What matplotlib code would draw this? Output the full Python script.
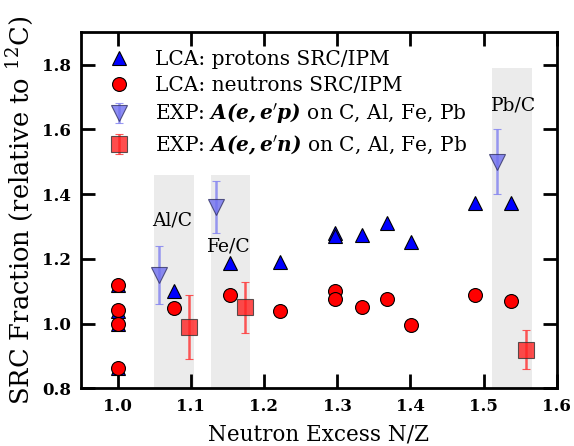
import numpy as np
import matplotlib
matplotlib.use('Agg')
import matplotlib.pyplot as plt

plt.rcParams['font.family'] = 'DejaVu Serif'
plt.rcParams['mathtext.fontset'] = 'dejavuserif'

# LCA calculations
nz_lca = [1.0, 1.0, 1.0, 1.0, 1.077, 1.154, 1.222, 1.297, 1.297, 1.334, 1.368, 1.401, 1.488, 1.538]
prot_lca = [1.12, 1.04, 1.0, 0.862, 1.10, 1.186, 1.19, 1.279, 1.27, 1.274, 1.31, 1.251, 1.372, 1.371]
neut_lca = [1.12, 1.041, 1.0, 0.862, 1.049, 1.087, 1.039, 1.10, 1.075, 1.053, 1.077, 0.996, 1.087, 1.07]

# experiment (ratios to C)
nz_exp_p = [1.056, 1.134, 1.519]
val_exp_p = [1.15, 1.36, 1.50]
err_exp_p = [0.09, 0.08, 0.10]
nz_exp_n = [1.097, 1.1745, 1.558]
val_exp_n = [0.99, 1.05, 0.92]
err_exp_n = [0.10, 0.08, 0.06]

# shaded bands
bands = [(1.05, 1.105, 1.46), (1.127, 1.181, 1.46), (1.511, 1.566, 1.79)]
band_labels = ['Al/C', 'Fe/C', 'Pb/C']
label_pos = [(1.074, 1.318), (1.152, 1.239), (1.541, 1.675)]

fig = plt.figure(figsize=(5.74, 4.46), dpi=100)
ax = fig.add_axes([0.141, 0.129, 0.829, 0.799])

for (x0, x1, top), lab, (tx, ty) in zip(bands, band_labels, label_pos):
    ax.fill_between([x0, x1], 0.8, top, color='#ebebeb', lw=0, zorder=0)
    ax.text(tx, ty, lab, ha='center', va='center', fontsize=13.5)

ax.plot(nz_lca, prot_lca, '^', color='blue', mec='black', mew=0.8, ms=10,
        label='LCA: protons SRC/IPM', zorder=3)
ax.plot(nz_lca, neut_lca, 'o', color='red', mec='black', mew=0.8, ms=10,
        label='LCA: neutrons SRC/IPM', zorder=4)
ax.errorbar(nz_exp_p, val_exp_p, yerr=err_exp_p, fmt='v', color='#7070f0',
            mec='#333366', mew=0.8, ms=11, ecolor='#8080f0', elinewidth=1.8,
            capsize=3, alpha=0.8, label=r"EXP: $\mathbfit{A(e,e}'\mathbfit{p)}$ on C, Al, Fe, Pb", zorder=5)
ax.errorbar(nz_exp_n, val_exp_n, yerr=err_exp_n, fmt='s', color='#ff2020',
            mec='#333333', mew=0.8, ms=11, ecolor='#ff3030', elinewidth=1.8,
            capsize=3, alpha=0.8, label=r"EXP: $\mathbfit{A(e,e}'\mathbfit{n)}$ on C, Al, Fe, Pb", zorder=5)

ax.set_xlim(0.95, 1.6)
ax.set_ylim(0.8, 1.9)
ax.set_xticks([1.0, 1.1, 1.2, 1.3, 1.4, 1.5, 1.6])
ax.set_yticks([0.8, 1.0, 1.2, 1.4, 1.6, 1.8])
ax.xaxis.set_major_formatter(matplotlib.ticker.FormatStrFormatter('%.1f'))
ax.yaxis.set_major_formatter(matplotlib.ticker.FormatStrFormatter('%.1f'))
ax.tick_params(direction='in', length=10, width=2, top=True, right=True, labelsize=12, pad=7)
for lbl in ax.get_xticklabels() + ax.get_yticklabels():
    lbl.set_fontweight('bold')
for s in ax.spines.values():
    s.set_linewidth(2)

ax.set_xlabel('Neutron Excess N/Z', fontsize=15.5, labelpad=6)
ax.set_ylabel(r'SRC Fraction (relative to $^{12}$C)', fontsize=18.5, labelpad=5)

ax.legend(loc='upper left', bbox_to_anchor=(0.0, 1.0), frameon=False, fontsize=14.5,
          labelspacing=0.35, handletextpad=0.8, numpoints=1)

fig.savefig('out.png', dpi=100)
